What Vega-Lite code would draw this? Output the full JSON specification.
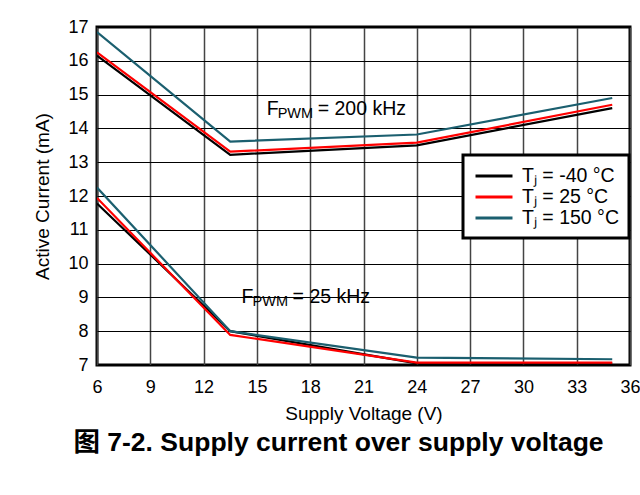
{
  "$schema": "https://vega.github.io/schema/vega-lite/v6.json",
  "width": 533,
  "height": 338,
  "autosize": "none",
  "padding": {"left": 97, "top": 27, "right": 10, "bottom": 130},
  "background": "white",
  "title": {
    "text": "图 7-2. Supply current over supply voltage",
    "orient": "bottom",
    "anchor": "middle",
    "font": "Liberation Sans, Noto Sans CJK SC",
    "fontWeight": "bold",
    "fontSize": 26.5,
    "color": "black",
    "offset": 7,
    "dx": -25
  },
  "config": {
    "font": "Liberation Sans",
    "view": {"stroke": "black", "strokeWidth": 3},
    "axis": {
      "labelFont": "Liberation Sans",
      "titleFont": "Liberation Sans",
      "labelColor": "black",
      "titleColor": "black",
      "labelFontSize": 18,
      "titleFontSize": 19,
      "titleFontWeight": "normal",
      "domain": false,
      "ticks": false,
      "labelOverlap": false
    }
  },
  "datasets": {
    "curves": [
      {"v": 6, "i": 16.15, "temp": "Tⱼ = -40 °C", "f": "200 kHz"},
      {"v": 13.5, "i": 13.22, "temp": "Tⱼ = -40 °C", "f": "200 kHz"},
      {"v": 24, "i": 13.5, "temp": "Tⱼ = -40 °C", "f": "200 kHz"},
      {"v": 35, "i": 14.6, "temp": "Tⱼ = -40 °C", "f": "200 kHz"},
      {"v": 6, "i": 16.25, "temp": "Tⱼ = 25 °C", "f": "200 kHz"},
      {"v": 13.5, "i": 13.31, "temp": "Tⱼ = 25 °C", "f": "200 kHz"},
      {"v": 24, "i": 13.58, "temp": "Tⱼ = 25 °C", "f": "200 kHz"},
      {"v": 35, "i": 14.7, "temp": "Tⱼ = 25 °C", "f": "200 kHz"},
      {"v": 6, "i": 16.85, "temp": "Tⱼ = 150 °C", "f": "200 kHz"},
      {"v": 13.5, "i": 13.61, "temp": "Tⱼ = 150 °C", "f": "200 kHz"},
      {"v": 24, "i": 13.82, "temp": "Tⱼ = 150 °C", "f": "200 kHz"},
      {"v": 35, "i": 14.9, "temp": "Tⱼ = 150 °C", "f": "200 kHz"},
      {"v": 6, "i": 11.78, "temp": "Tⱼ = -40 °C", "f": "25 kHz"},
      {"v": 13.5, "i": 8.0, "temp": "Tⱼ = -40 °C", "f": "25 kHz"},
      {"v": 24, "i": 7.05, "temp": "Tⱼ = -40 °C", "f": "25 kHz"},
      {"v": 35, "i": 7.05, "temp": "Tⱼ = -40 °C", "f": "25 kHz"},
      {"v": 6, "i": 11.94, "temp": "Tⱼ = 25 °C", "f": "25 kHz"},
      {"v": 13.5, "i": 7.89, "temp": "Tⱼ = 25 °C", "f": "25 kHz"},
      {"v": 24, "i": 7.07, "temp": "Tⱼ = 25 °C", "f": "25 kHz"},
      {"v": 35, "i": 7.07, "temp": "Tⱼ = 25 °C", "f": "25 kHz"},
      {"v": 6, "i": 12.25, "temp": "Tⱼ = 150 °C", "f": "25 kHz"},
      {"v": 13.5, "i": 8.0, "temp": "Tⱼ = 150 °C", "f": "25 kHz"},
      {"v": 24, "i": 7.22, "temp": "Tⱼ = 150 °C", "f": "25 kHz"},
      {"v": 35, "i": 7.17, "temp": "Tⱼ = 150 °C", "f": "25 kHz"}
    ],
    "notes": [
      {"v": 15.55, "i": 14.4, "main": "F", "sub": "PWM", "rest": "= 200 kHz"},
      {"v": 14.14, "i": 8.83, "main": "F", "sub": "PWM", "rest": "= 25 kHz"}
    ]
  },
  "encoding": {
    "x": {
      "field": "v", "type": "quantitative",
      "scale": {"domain": [6, 36], "nice": false, "zero": false},
      "axis": {
        "title": "Supply Voltage (V)",
        "values": [6, 9, 12, 15, 18, 21, 24, 27, 30, 33, 36],
        "tickCount": 20,
        "format": "d",
        "labelPadding": 13,
        "titlePadding": 8,
        "gridColor": "#444",
        "gridWidth": 1.5,
        "gridOpacity": 1,
        "labelFlush": false
      }
    },
    "y": {
      "field": "i", "type": "quantitative",
      "scale": {"domain": [7, 17], "nice": false, "zero": false},
      "axis": {
        "title": "Active Current (mA)",
        "values": [7, 8, 9, 10, 11, 12, 13, 14, 15, 16, 17],
        "tickCount": 20,
        "format": "d",
        "labelPadding": 9,
        "titlePadding": 15,
        "gridColor": "black",
        "gridWidth": 1,
        "gridOpacity": 1
      }
    }
  },
  "layer": [
    {
      "data": {"name": "curves"},
      "mark": {"type": "line", "strokeWidth": 2.2, "clip": true},
      "encoding": {
        "color": {
          "field": "temp", "type": "nominal",
          "scale": {
            "domain": ["Tⱼ = -40 °C", "Tⱼ = 25 °C", "Tⱼ = 150 °C"],
            "range": ["#000000", "#ff0000", "#1b5f6f"]
          },
          "legend": {
            "title": null,
            "orient": "none",
            "legendX": 366,
            "legendY": 128,
            "fillColor": "white",
            "strokeColor": "black",
            "padding": 10,
            "symbolType": "M-2,0H2",
            "symbolSize": 342,
            "symbolStrokeWidth": 3,
            "symbolOffset": 10,
            "labelFont": "Liberation Sans",
            "labelFontSize": 19.5,
            "labelColor": "black",
            "labelOffset": 17,
            "rowPadding": 0,
            "encode": {"legend": {"update": {"strokeWidth": {"value": 3}}}}
          }
        },
        "detail": {"field": "f", "type": "nominal"},
        "order": {"field": "v", "type": "quantitative"}
      }
    },
    {
      "data": {"name": "notes"},
      "mark": {"type": "text", "align": "left", "baseline": "alphabetic", "fontSize": 19.5, "font": "Liberation Sans", "color": "black"},
      "encoding": {
        "text": {"field": "main"}
      }
    },
    {
      "data": {"name": "notes"},
      "mark": {"type": "text", "align": "left", "baseline": "alphabetic", "fontSize": 14.5, "font": "Liberation Sans", "color": "black", "dx": 11, "dy": 3},
      "encoding": {
        "text": {"field": "sub"}
      }
    },
    {
      "data": {"name": "notes"},
      "mark": {"type": "text", "align": "left", "baseline": "alphabetic", "fontSize": 19.5, "font": "Liberation Sans", "color": "black", "dx": 51},
      "encoding": {
        "text": {"field": "rest"}
      }
    }
  ]
}
